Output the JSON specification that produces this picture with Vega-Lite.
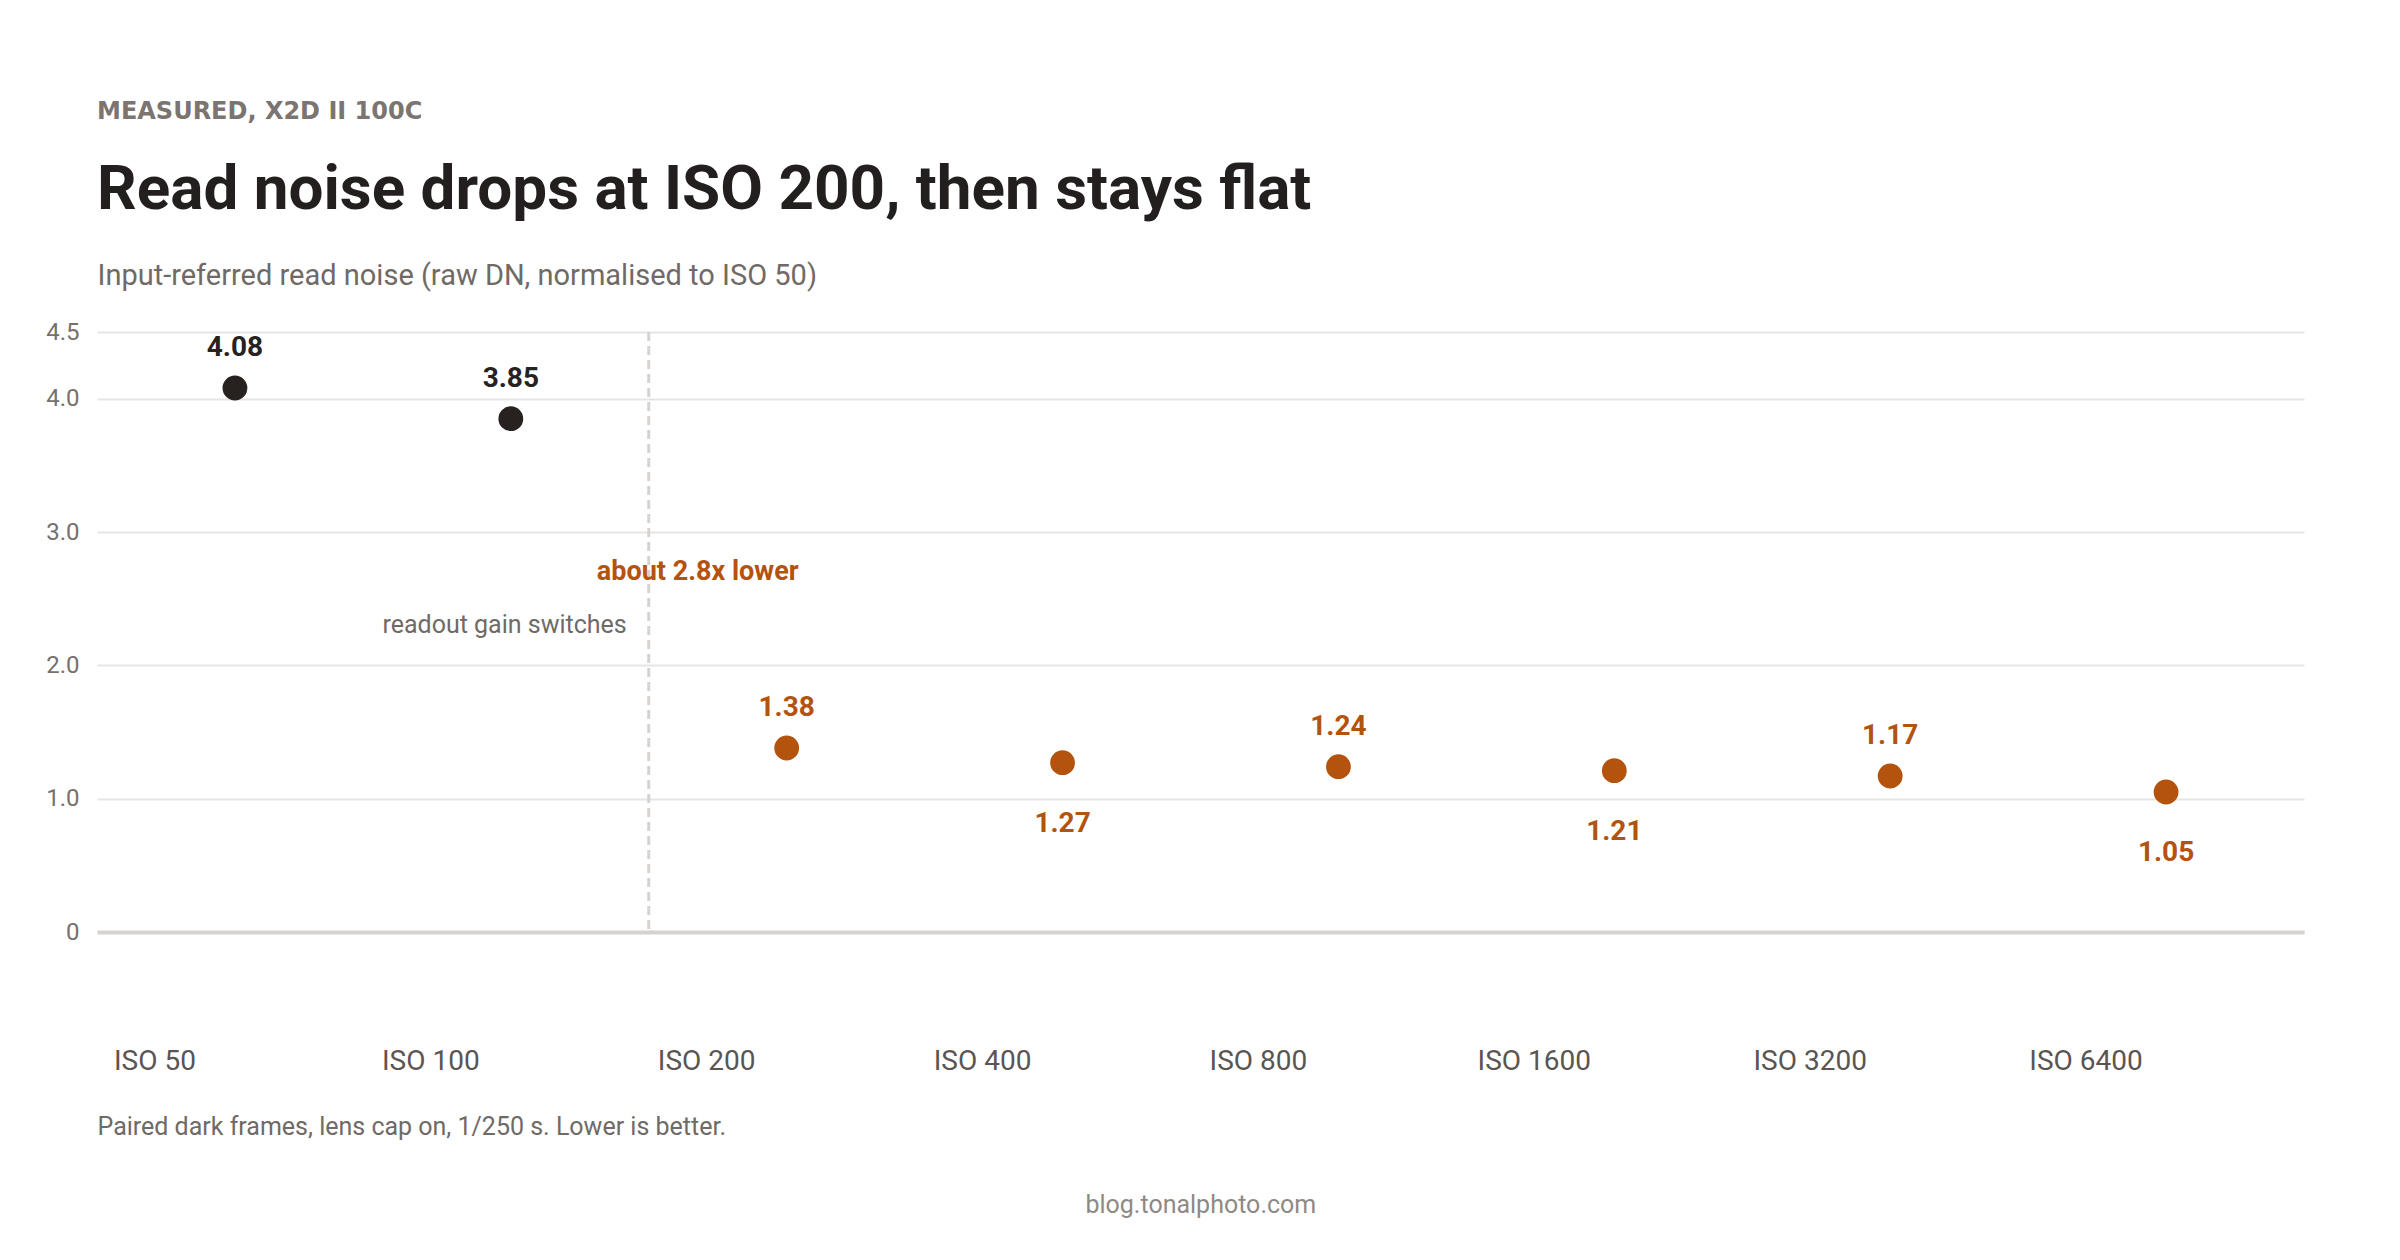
{
  "$schema": "https://vega.github.io/schema/vega-lite/v6.json",
  "background": "white",
  "padding": {"left": 45, "top": 100, "right": 10, "bottom": 10},
  "config": {"view": {"stroke": null}, "font": "Roboto", "concat": {"spacing": 0}},
  "title": {
    "text": "blog.tonalphoto.com",
    "orient": "bottom",
    "anchor": "middle",
    "font": "Roboto",
    "fontSize": 25,
    "fontWeight": "normal",
    "color": "#8f8985",
    "offset": 54,
    "dx": 26
  },
  "vconcat": [
    {
      "width": 2207,
      "height": 600,
      "title": {
        "text": "MEASURED, X2D II 100C",
        "subtitle": "Read noise drops at ISO 200, then stays flat",
        "anchor": "start",
        "frame": "group",
        "font": "DejaVu Sans",
        "fontSize": 24,
        "fontWeight": "bold",
        "color": "#7b7470",
        "subtitleFont": "Roboto",
        "subtitleFontSize": 62,
        "subtitleFontWeight": "bold",
        "subtitleColor": "#231f1f",
        "subtitlePadding": 36,
        "offset": 40
      },
      "data": {
        "values": [
          {"iso": "ISO 50", "noise": 4.08, "readout": "low gain", "side": "above"},
          {"iso": "ISO 100", "noise": 3.85, "readout": "low gain", "side": "above"},
          {"iso": "ISO 200", "noise": 1.38, "readout": "high gain", "side": "above"},
          {"iso": "ISO 400", "noise": 1.27, "readout": "high gain", "side": "below"},
          {"iso": "ISO 800", "noise": 1.24, "readout": "high gain", "side": "above"},
          {"iso": "ISO 1600", "noise": 1.21, "readout": "high gain", "side": "below"},
          {"iso": "ISO 3200", "noise": 1.17, "readout": "high gain", "side": "above"},
          {"iso": "ISO 6400", "noise": 1.05, "readout": "high gain", "side": "below"}
        ]
      },
      "encoding": {
        "x": {
          "field": "iso",
          "type": "nominal",
          "scale": {
            "type": "band",
            "domain": ["ISO 50", "ISO 100", "ISO 200", "ISO 400", "ISO 800", "ISO 1600", "ISO 3200", "ISO 6400"],
            "paddingInner": 0,
            "paddingOuter": 0
          },
          "axis": {
            "title": "Paired dark frames, lens cap on, 1/250 s. Lower is better.",
            "titleAnchor": "start",
            "titleAlign": "left",
            "titleBaseline": "middle",
            "titleX": 0,
            "titleY": 194,
            "titleFont": "Roboto",
            "titleFontSize": 25,
            "titleFontWeight": "normal",
            "titleColor": "#6f6a66",
            "labelAngle": 0,
            "labelAlign": "center",
            "labelBaseline": "middle",
            "labelOffset": -80,
            "labelPadding": 129,
            "labelFont": "Roboto",
            "labelFontSize": 28,
            "labelColor": "#5b5552",
            "ticks": false,
            "grid": false,
            "domain": true,
            "domainColor": "#d6d2cf",
            "domainWidth": 4
          }
        }
      },
      "layer": [
        {
          "transform": [{"filter": "datum.iso === 'ISO 200'"}],
          "mark": {"type": "rule", "color": "#d6d2cf", "strokeWidth": 3, "strokeDash": [9, 5]},
          "encoding": {
            "x": {"field": "iso", "type": "nominal", "bandPosition": 0}
          }
        },
        {
          "mark": {"type": "circle", "size": 616, "opacity": 1},
          "encoding": {
            "y": {
              "field": "noise",
              "type": "quantitative",
              "scale": {"domain": [0, 4.5], "nice": false, "zero": true},
              "axis": {
                "values": [0, 1, 2, 3, 4, 4.5],
                "labelExpr": "datum.value === 0 ? '0' : format(datum.value, '.1f')",
                "title": "Input-referred read noise (raw DN, normalised to ISO 50)",
                "titleAngle": 0,
                "titleAlign": "left",
                "titleBaseline": "middle",
                "titleX": 0,
                "titleY": -57,
                "titleFont": "Roboto",
                "titleFontSize": 29,
                "titleFontWeight": "normal",
                "titleColor": "#6f6a66",
                "labelFont": "Roboto",
                "labelFontSize": 24,
                "labelColor": "#77706b",
                "labelPadding": 18,
                "ticks": false,
                "domain": false,
                "grid": true,
                "gridColor": "#e5e5e5",
                "gridWidth": 2
              }
            },
            "color": {
              "field": "readout",
              "type": "nominal",
              "scale": {"domain": ["low gain", "high gain"], "range": ["#27221f", "#b4530e"]},
              "legend": null
            }
          }
        },
        {
          "transform": [{"filter": "datum.side === 'above'"}],
          "mark": {"type": "text", "font": "Roboto", "fontSize": 28, "fontWeight": "bold", "baseline": "middle", "align": "center", "dy": -40},
          "encoding": {
            "y": {"field": "noise", "type": "quantitative"},
            "text": {"field": "noise", "type": "quantitative", "format": ".2f"},
            "color": {"field": "readout", "type": "nominal", "legend": null}
          }
        },
        {
          "transform": [{"filter": "datum.side === 'below'"}],
          "mark": {"type": "text", "font": "Roboto", "fontSize": 28, "fontWeight": "bold", "baseline": "middle", "align": "center", "dy": 61},
          "encoding": {
            "y": {"field": "noise", "type": "quantitative"},
            "text": {"field": "noise", "type": "quantitative", "format": ".2f"},
            "color": {"field": "readout", "type": "nominal", "legend": null}
          }
        },
        {
          "transform": [{"filter": "datum.iso === 'ISO 200'"}],
          "mark": {"type": "text", "text": "about 2.8x lower", "font": "Roboto", "fontSize": 27, "fontWeight": "bold", "color": "#b4530e", "align": "center", "baseline": "middle", "dx": 49},
          "encoding": {
            "x": {"field": "iso", "type": "nominal", "bandPosition": 0},
            "y": {"datum": 2.7, "type": "quantitative"}
          }
        },
        {
          "transform": [{"filter": "datum.iso === 'ISO 200'"}],
          "mark": {"type": "text", "text": "readout gain switches", "font": "Roboto", "fontSize": 25, "fontWeight": "normal", "color": "#6f6a66", "align": "right", "baseline": "middle", "dx": -22},
          "encoding": {
            "x": {"field": "iso", "type": "nominal", "bandPosition": 0},
            "y": {"datum": 2.3, "type": "quantitative"}
          }
        }
      ]
    }
  ]
}
